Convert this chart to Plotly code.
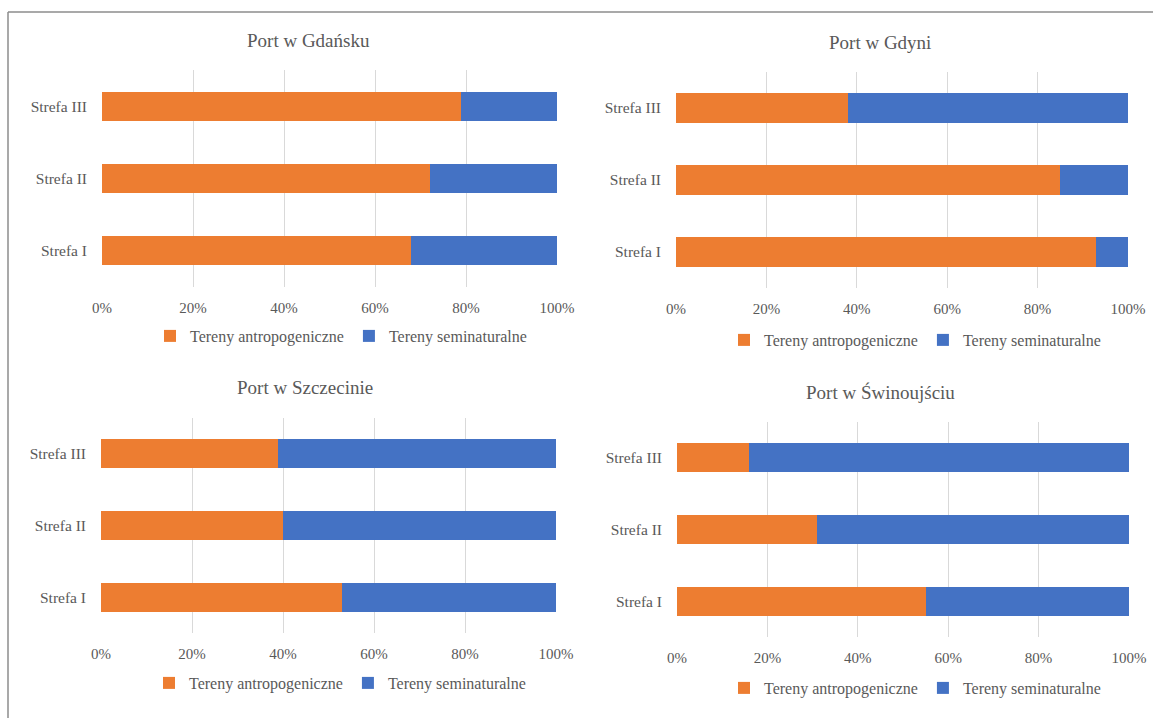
import plotly.graph_objects as go

W, H = 1153, 718

# Zones shown on every panel (bottom to top)
zones = ["Strefa I", "Strefa II", "Strefa III"]
x_ticks = [0, 20, 40, 60, 80, 100]
x_tick_text = [f"{v}%" for v in x_ticks]

series_names = ["Tereny antropogeniczne", "Tereny seminaturalne"]

# Share of land cover per zone, in percent
gdansk_antro = [68, 72, 79]
gdansk_semi = [32, 28, 21]

gdynia_antro = [93, 85, 38]
gdynia_semi = [7, 15, 62]

szczecin_antro = [53, 40, 39]
szczecin_semi = [47, 60, 61]

swinoujscie_antro = [55, 31, 16]
swinoujscie_semi = [45, 69, 84]

titles = ["Port w Gdańsku", "Port w Gdyni", "Port w Szczecinie", "Port w Świnoujściu"]
antro_values = [gdansk_antro, gdynia_antro, szczecin_antro, swinoujscie_antro]
semi_values = [gdansk_semi, gdynia_semi, szczecin_semi, swinoujscie_semi]

ORANGE = "#ED7D31"
BLUE = "#4472C4"
TEXT = "#595959"
GRID = "#D9D9D9"
FONT = "Liberation Serif, Times New Roman, serif"

# Panel geometry in pixels: plot box (left, right, top, bottom), title centre, legend centre
panels = [
    dict(box=(102, 557, 70, 287), title=(308, 40), legend=(341, 336)),
    dict(box=(676, 1128, 72, 288), title=(880, 43), legend=(915, 340)),
    dict(box=(101, 556, 418, 633), title=(305, 388), legend=(340, 683)),
    dict(box=(677, 1129, 422, 637), title=(880, 392), legend=(915, 688)),
]


def fx(p):
    return p / W


def fy(p):
    return 1 - p / H


fig = go.Figure()
layout = dict(
    width=W,
    height=H,
    autosize=False,
    margin=dict(l=0, r=0, t=0, b=0, autoexpand=False),
    paper_bgcolor="white",
    plot_bgcolor="white",
    barmode="stack",
    bargap=0.597,
    font=dict(family=FONT, color=TEXT),
    annotations=[],
    shapes=[],
)

for i, (title, antro, semi, panel) in enumerate(zip(titles, antro_values, semi_values, panels)):
    n = "" if i == 0 else str(i + 1)
    xa, ya, lg = "x" + n, "y" + n, "legend" + n
    for name, vals, color in ((series_names[0], antro, ORANGE), (series_names[1], semi, BLUE)):
        fig.add_trace(go.Bar(
            y=zones, x=vals, orientation="h", name=name,
            marker=dict(color=color, line=dict(width=0)),
            xaxis=xa, yaxis=ya, legend=lg, hoverinfo="x+y+name",
        ))
    left, right, top, bottom = panel["box"]
    layout["xaxis" + n] = dict(
        domain=[fx(left), fx(right)], anchor=ya, range=[0, 100],
        tickmode="array", tickvals=x_ticks, ticktext=x_tick_text,
        showgrid=True, gridcolor=GRID, gridwidth=1, automargin=False,
        zeroline=False, showline=False, ticks="", ticklabelstandoff=10,
        tickfont=dict(family=FONT, size=15, color=TEXT), fixedrange=True,
    )
    layout["yaxis" + n] = dict(
        domain=[fy(bottom), fy(top)], anchor=xa, type="category",
        categoryorder="array", categoryarray=zones, showgrid=False, automargin=False,
        zeroline=False, showline=False, ticks="", ticklabelstandoff=14,
        tickfont=dict(family=FONT, size=15.5, color=TEXT), fixedrange=True,
    )
    lx, ly = panel["legend"]
    layout[lg] = dict(
        orientation="h", xref="container", yref="container",
        x=fx(lx), xanchor="center", y=fy(ly), yanchor="middle",
        font=dict(family=FONT, size=16, color=TEXT), bgcolor="rgba(0,0,0,0)",
        itemwidth=30, traceorder="normal", tracegroupgap=0,
    )
    tx, ty = panel["title"]
    layout["annotations"].append(dict(
        text=title, x=fx(tx), y=fy(ty), xref="paper", yref="paper",
        xanchor="center", yanchor="middle", showarrow=False,
        font=dict(family=FONT, size=19, color=TEXT),
    ))

# Frame lines along the top and left edge
layout["shapes"] += [
    dict(type="line", xref="paper", yref="paper", x0=fx(8), x1=1, y0=fy(12), y1=fy(12),
         line=dict(color="#8C8C8C", width=1.5)),
    dict(type="line", xref="paper", yref="paper", x0=fx(8), x1=fx(8), y0=fy(12), y1=0,
         line=dict(color="#8C8C8C", width=1.5)),
]

fig.update_layout(**layout)
fig.write_html("out.html")
